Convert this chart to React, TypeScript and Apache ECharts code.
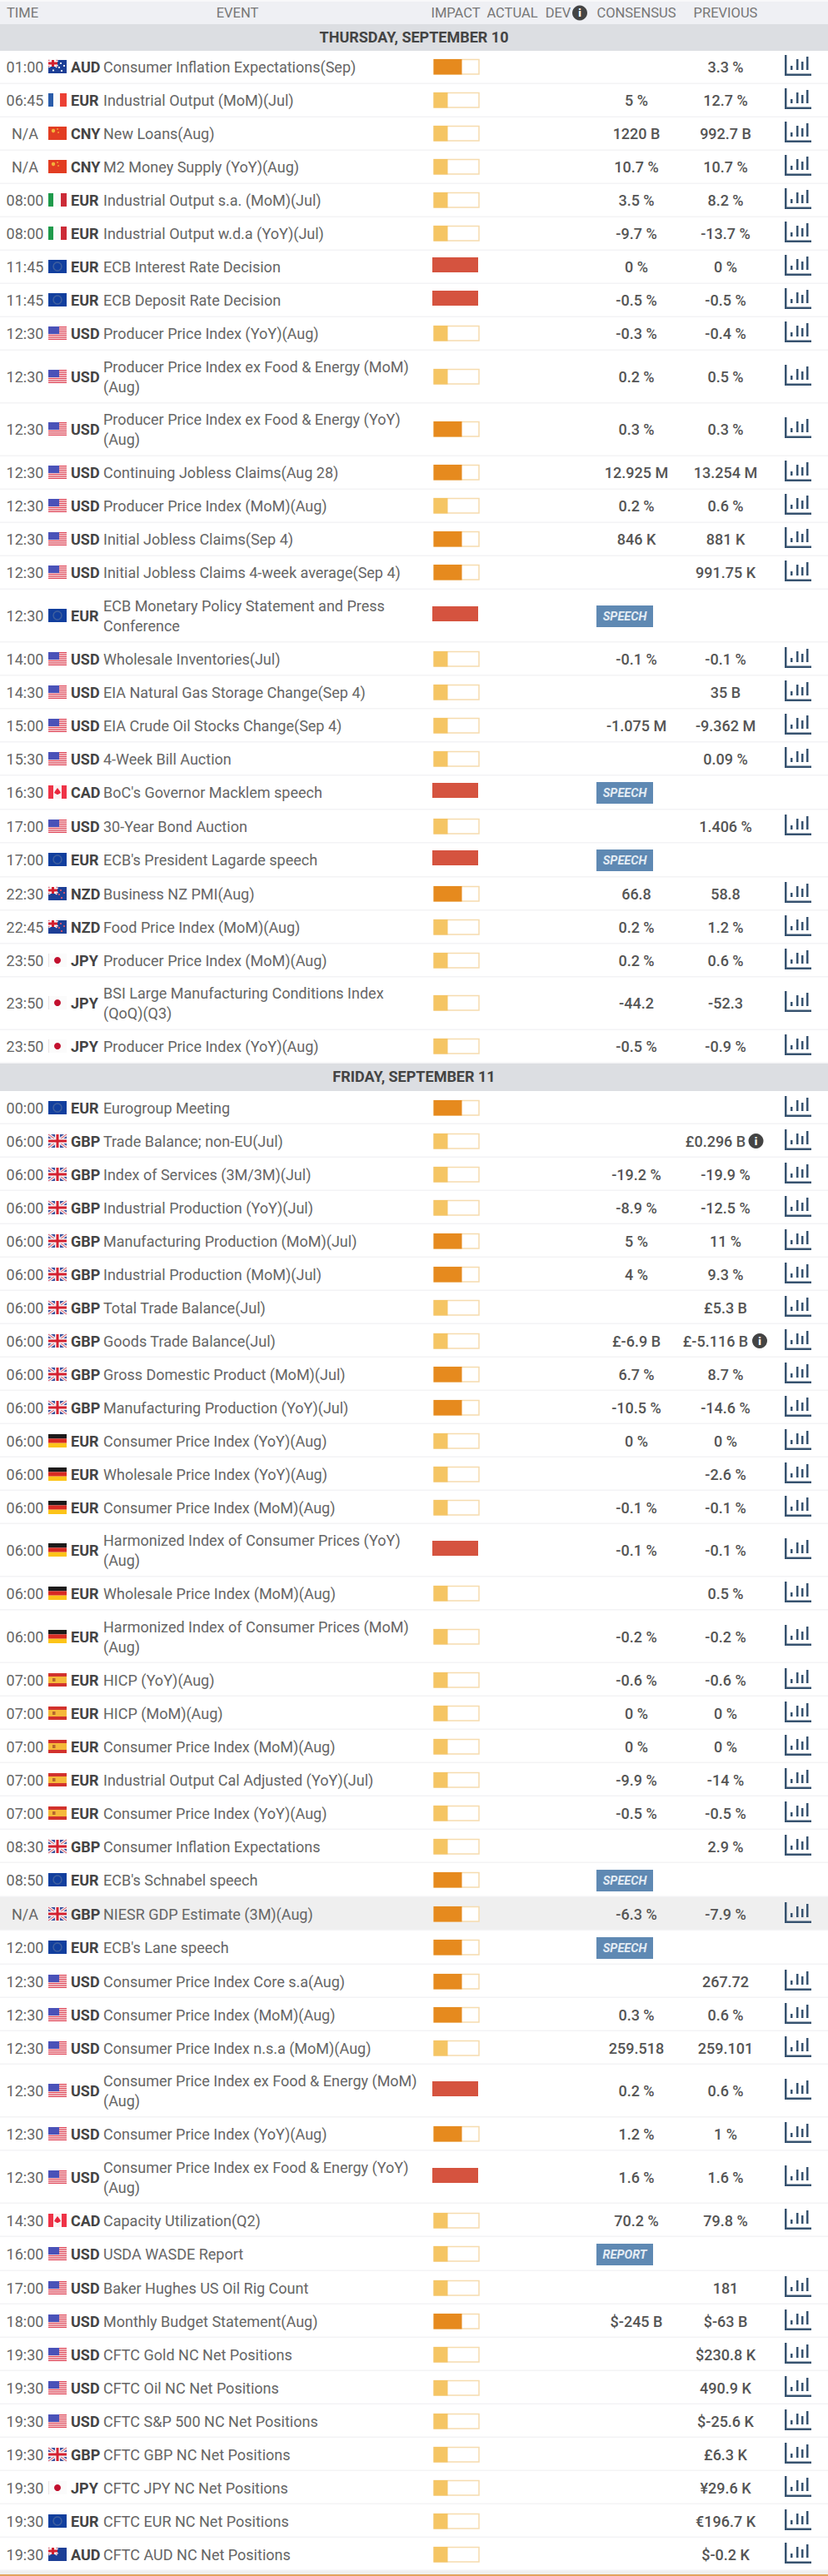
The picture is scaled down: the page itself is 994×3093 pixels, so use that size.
// App.tsx
import React, { useEffect, useRef } from "react";
import * as echarts from "echarts";

const WIDTH = 994;
const HEIGHT = 3093;

const columnLabels = ["TIME", "EVENT", "IMPACT", "ACTUAL", "DEV", "CONSENSUS", "PREVIOUS"];
const dayLabels = ["THURSDAY, SEPTEMBER 10", "FRIDAY, SEPTEMBER 11"];
const dayRowCounts = [28, 42];

const times = [
  "01:00", "06:45", "N/A", "N/A", "08:00", "08:00", "11:45", "11:45", "12:30", "12:30", "12:30", "12:30", "12:30", "12:30",
  "12:30", "12:30", "14:00", "14:30", "15:00", "15:30", "16:30", "17:00", "17:00", "22:30", "22:45", "23:50", "23:50", "23:50",
  "00:00", "06:00", "06:00", "06:00", "06:00", "06:00", "06:00", "06:00", "06:00", "06:00", "06:00", "06:00", "06:00", "06:00",
  "06:00", "06:00", "07:00", "07:00", "07:00", "07:00", "07:00", "08:30", "08:50", "N/A", "12:00", "12:30", "12:30", "12:30",
  "12:30", "12:30", "12:30", "14:30", "16:00", "17:00", "18:00", "19:30", "19:30", "19:30", "19:30", "19:30", "19:30", "19:30",
];

const flags = [
  "AU", "FR", "CN", "CN", "IT", "IT", "EU", "EU", "US", "US", "US", "US", "US", "US",
  "US", "EU", "US", "US", "US", "US", "CA", "US", "EU", "NZ", "NZ", "JP", "JP", "JP",
  "EU", "GB", "GB", "GB", "GB", "GB", "GB", "GB", "GB", "GB", "DE", "DE", "DE", "DE",
  "DE", "DE", "ES", "ES", "ES", "ES", "ES", "GB", "EU", "GB", "EU", "US", "US", "US",
  "US", "US", "US", "CA", "US", "US", "US", "US", "US", "US", "GB", "JP", "EU", "AU",
];

const currencies = [
  "AUD", "EUR", "CNY", "CNY", "EUR", "EUR", "EUR", "EUR", "USD", "USD", "USD", "USD", "USD", "USD",
  "USD", "EUR", "USD", "USD", "USD", "USD", "CAD", "USD", "EUR", "NZD", "NZD", "JPY", "JPY", "JPY",
  "EUR", "GBP", "GBP", "GBP", "GBP", "GBP", "GBP", "GBP", "GBP", "GBP", "EUR", "EUR", "EUR", "EUR",
  "EUR", "EUR", "EUR", "EUR", "EUR", "EUR", "EUR", "GBP", "EUR", "GBP", "EUR", "USD", "USD", "USD",
  "USD", "USD", "USD", "CAD", "USD", "USD", "USD", "USD", "USD", "USD", "GBP", "JPY", "EUR", "AUD",
];

// "\n" marks where the reference wraps the event name
const events = [
  "Consumer Inflation Expectations(Sep)",
  "Industrial Output (MoM)(Jul)",
  "New Loans(Aug)",
  "M2 Money Supply (YoY)(Aug)",
  "Industrial Output s.a. (MoM)(Jul)",
  "Industrial Output w.d.a (YoY)(Jul)",
  "ECB Interest Rate Decision",
  "ECB Deposit Rate Decision",
  "Producer Price Index (YoY)(Aug)",
  "Producer Price Index ex Food & Energy (MoM)\n(Aug)",
  "Producer Price Index ex Food & Energy (YoY)\n(Aug)",
  "Continuing Jobless Claims(Aug 28)",
  "Producer Price Index (MoM)(Aug)",
  "Initial Jobless Claims(Sep 4)",
  "Initial Jobless Claims 4-week average(Sep 4)",
  "ECB Monetary Policy Statement and Press\nConference",
  "Wholesale Inventories(Jul)",
  "EIA Natural Gas Storage Change(Sep 4)",
  "EIA Crude Oil Stocks Change(Sep 4)",
  "4-Week Bill Auction",
  "BoC's Governor Macklem speech",
  "30-Year Bond Auction",
  "ECB's President Lagarde speech",
  "Business NZ PMI(Aug)",
  "Food Price Index (MoM)(Aug)",
  "Producer Price Index (MoM)(Aug)",
  "BSI Large Manufacturing Conditions Index\n(QoQ)(Q3)",
  "Producer Price Index (YoY)(Aug)",
  "Eurogroup Meeting",
  "Trade Balance; non-EU(Jul)",
  "Index of Services (3M/3M)(Jul)",
  "Industrial Production (YoY)(Jul)",
  "Manufacturing Production (MoM)(Jul)",
  "Industrial Production (MoM)(Jul)",
  "Total Trade Balance(Jul)",
  "Goods Trade Balance(Jul)",
  "Gross Domestic Product (MoM)(Jul)",
  "Manufacturing Production (YoY)(Jul)",
  "Consumer Price Index (YoY)(Aug)",
  "Wholesale Price Index (YoY)(Aug)",
  "Consumer Price Index (MoM)(Aug)",
  "Harmonized Index of Consumer Prices (YoY)\n(Aug)",
  "Wholesale Price Index (MoM)(Aug)",
  "Harmonized Index of Consumer Prices (MoM)\n(Aug)",
  "HICP (YoY)(Aug)",
  "HICP (MoM)(Aug)",
  "Consumer Price Index (MoM)(Aug)",
  "Industrial Output Cal Adjusted (YoY)(Jul)",
  "Consumer Price Index (YoY)(Aug)",
  "Consumer Inflation Expectations",
  "ECB's Schnabel speech",
  "NIESR GDP Estimate (3M)(Aug)",
  "ECB's Lane speech",
  "Consumer Price Index Core s.a(Aug)",
  "Consumer Price Index (MoM)(Aug)",
  "Consumer Price Index n.s.a (MoM)(Aug)",
  "Consumer Price Index ex Food & Energy (MoM)\n(Aug)",
  "Consumer Price Index (YoY)(Aug)",
  "Consumer Price Index ex Food & Energy (YoY)\n(Aug)",
  "Capacity Utilization(Q2)",
  "USDA WASDE Report",
  "Baker Hughes US Oil Rig Count",
  "Monthly Budget Statement(Aug)",
  "CFTC Gold NC Net Positions",
  "CFTC Oil NC Net Positions",
  "CFTC S&P 500 NC Net Positions",
  "CFTC GBP NC Net Positions",
  "CFTC JPY NC Net Positions",
  "CFTC EUR NC Net Positions",
  "CFTC AUD NC Net Positions",
];

// 1 low, 2 medium, 3 high
const impacts = [
  2, 1, 1, 1, 1, 1, 3, 3, 1, 1, 2, 2, 1, 2,
  2, 3, 1, 1, 1, 1, 3, 1, 3, 2, 1, 1, 1, 1,
  2, 1, 1, 1, 2, 2, 1, 1, 2, 2, 1, 1, 1, 3,
  1, 1, 1, 1, 1, 1, 1, 1, 2, 2, 2, 2, 2, 1,
  3, 2, 3, 1, 1, 1, 2, 1, 1, 1, 1, 1, 1, 1,
];

const consensus = [
  "", "5 %", "1220 B", "10.7 %", "3.5 %", "-9.7 %", "0 %", "-0.5 %", "-0.3 %", "0.2 %", "0.3 %", "12.925 M", "0.2 %", "846 K",
  "", "", "-0.1 %", "", "-1.075 M", "", "", "", "", "66.8", "0.2 %", "0.2 %", "-44.2", "-0.5 %",
  "", "", "-19.2 %", "-8.9 %", "5 %", "4 %", "", "£-6.9 B", "6.7 %", "-10.5 %", "0 %", "", "-0.1 %", "-0.1 %",
  "", "-0.2 %", "-0.6 %", "0 %", "0 %", "-9.9 %", "-0.5 %", "", "", "-6.3 %", "", "", "0.3 %", "259.518",
  "0.2 %", "1.2 %", "1.6 %", "70.2 %", "", "", "$-245 B", "", "", "", "", "", "", "",
];

const previous = [
  "3.3 %", "12.7 %", "992.7 B", "10.7 %", "8.2 %", "-13.7 %", "0 %", "-0.5 %", "-0.4 %", "0.5 %", "0.3 %", "13.254 M", "0.6 %", "881 K",
  "991.75 K", "", "-0.1 %", "35 B", "-9.362 M", "0.09 %", "", "1.406 %", "", "58.8", "1.2 %", "0.6 %", "-52.3", "-0.9 %",
  "", "£0.296 B", "-19.9 %", "-12.5 %", "11 %", "9.3 %", "£5.3 B", "£-5.116 B", "8.7 %", "-14.6 %", "0 %", "-2.6 %", "-0.1 %", "-0.1 %",
  "0.5 %", "-0.2 %", "-0.6 %", "0 %", "0 %", "-14 %", "-0.5 %", "2.9 %", "", "-7.9 %", "", "267.72", "0.6 %", "259.101",
  "0.6 %", "1 %", "1.6 %", "79.8 %", "", "181", "$-63 B", "$230.8 K", "490.9 K", "$-25.6 K", "£6.3 K", "¥29.6 K", "€196.7 K", "$-0.2 K",
];

const revisedPrevious = ["£0.296 B", "£-5.116 B"];
const badges: Record<string, string> = {
  "ECB Monetary Policy Statement and Press\nConference": "SPEECH",
  "BoC's Governor Macklem speech": "SPEECH",
  "ECB's President Lagarde speech": "SPEECH",
  "ECB's Schnabel speech": "SPEECH",
  "ECB's Lane speech": "SPEECH",
  "USDA WASDE Report": "REPORT",
};
const highlightedEvent = "NIESR GDP Estimate (3M)(Aug)";

const FONT = "Roboto, sans-serif";
const impactColors = ["", "#f5c564", "#e68a1e", "#d5533f"];

// row tops are worked out once, the custom series read them through the y axis
type Band = [number, number, number];
const rowData: number[][] = [];
const dayBands: Band[] = [[29, 61, 0]];
let cursor = 61;
let rowIndex = 0;
dayRowCounts.forEach((count, d) => {
  if (d > 0) {
    dayBands.push([cursor, cursor + 33, d]);
    cursor += 33;
  }
  for (let i = 0; i < count; i++, rowIndex++) {
    const h = events[rowIndex].includes("\n") ? 63.5 : badges[events[rowIndex]] ? 41 : 40;
    rowData.push([rowIndex, cursor, cursor + h]);
    cursor += h;
  }
});

const text = (x: number, y: number, value: string, extra: any = {}) => ({
  type: "text",
  x,
  y,
  silent: true,
  style: { text: value, fontFamily: FONT, fontSize: 18, fill: "#666", align: "left", verticalAlign: "middle", ...extra },
});
const rect = (x: number, y: number, width: number, height: number, fill: string, extra: any = {}) => ({
  type: "rect",
  shape: { x, y, width, height },
  style: { fill, ...extra },
});
const dot = (cx: number, cy: number, r: number, fill: string, extra: any = {}) => ({
  type: "circle",
  shape: { cx, cy, r },
  style: { fill, ...extra },
});
const bar = (x1: number, y1: number, x2: number, y2: number, stroke: string, lineWidth: number) => ({
  type: "line",
  shape: { x1, y1, x2, y2 },
  style: { stroke, lineWidth },
});

function infoIcon(cx: number, cy: number) {
  return [dot(cx, cy, 9, "#444"), text(cx, cy, "i", { fontSize: 13, fontWeight: 900, fill: "#fff", align: "center" })];
}

function chartIcon(x: number, cy: number) {
  const c = "#36526f";
  const base = cy + 4;
  return [
    rect(x, cy - 14, 2.5, 25, c),
    rect(x, cy + 8.5, 32, 2.5, c),
    rect(x + 7, base - 5, 2.5, 5, c),
    rect(x + 14, base - 13, 2.5, 13, c),
    rect(x + 20, base - 10, 2.5, 10, c),
    rect(x + 26, base - 16, 2.5, 16, c),
  ];
}

function unionJack(x: number, y: number, w: number, h: number) {
  return [
    rect(x, y, w, h, "#3b4f9c"),
    bar(x, y, x + w, y + h, "#f2f0f2", 3.5),
    bar(x + w, y, x, y + h, "#f2f0f2", 3.5),
    bar(x, y, x + w, y + h, "#d9485a", 1),
    bar(x + w, y, x, y + h, "#d9485a", 1),
    rect(x + w / 2 - 3, y, 6, h, "#f6f4f5"),
    rect(x, y + h / 2 - 3, w, 6, "#f6f4f5"),
    rect(x + w / 2 - 1.5, y, 3, h, "#d4202f"),
    rect(x, y + h / 2 - 1.5, w, 3, "#d4202f"),
  ];
}

function flagShapes(code: string, cy: number) {
  const x = 58;
  const w = 22;
  const h = 16;
  const y = cy - 8;
  switch (code) {
    case "AU":
    case "NZ": {
      const stars = code === "AU"
        ? [[15, 4], [19, 7], [13, 9], [16, 13], [6, 12.5]]
        : [[15, 4], [19, 7], [13, 9], [16, 13]];
      return [
        rect(x, y, w, h, "#1d3f96"),
        ...unionJack(x, y, 11, 8),
        ...stars.map(([sx, sy]) => dot(x + sx, y + sy, 1.1, code === "AU" ? "#fff" : "#e0566a")),
      ];
    }
    case "FR":
      return [rect(x, y, 6, h, "#2a5caa"), rect(x + 6, y, 8, h, "#fafafa"), rect(x + 14, y, 8, h, "#ec4034")];
    case "CN":
      return [rect(x, y, w, h, "#e23d22"), dot(x + 6, y + 5, 2.2, "#f3b23a"), dot(x + 11, y + 3, 0.8, "#f3b23a"), dot(x + 12, y + 7, 0.8, "#f3b23a")];
    case "IT":
      return [rect(x, y, 6, h, "#1e9a4b"), rect(x + 6, y, 9, h, "#fafafa"), rect(x + 15, y, 7, h, "#cc2b37")];
    case "EU":
      return [rect(x, y, w, h, "#123f9e"), dot(x + 11, y + 8, 5, "none", { stroke: "#3f5f9e", lineWidth: 1.5 })];
    case "US": {
      const stripes = [0, 1, 2, 3, 4, 5, 6].map((i) => rect(x, y + (i * h) / 6.5, w, h / 13, "#e0475a"));
      return [rect(x, y, w, h, "#f7e4e4"), ...stripes, rect(x, y, 13, 9, "#4a52b8")];
    }
    case "CA":
      return [
        rect(x, y, 6, h, "#ef3347"),
        rect(x + 6, y, 10, h, "#fbf3f3"),
        rect(x + 16, y, 6, h, "#ef3347"),
        { type: "polygon", shape: { points: [[x + 11, y + 3], [x + 14, y + 7], [x + 15, y + 9], [x + 11.5, y + 11], [x + 10.5, y + 11], [x + 7, y + 9], [x + 8, y + 7]] }, style: { fill: "#e8283e" } },
      ];
    case "JP":
      return [rect(x, y, w, h, "#fbfbfb"), rect(x, y, 1, h, "#e8e4e4"), dot(x + 11, y + 8, 4, "#c2102e")];
    case "GB":
      return unionJack(x, y, w, h);
    case "DE":
      return [rect(x, y, w, 5.4, "#1d1b1b"), rect(x, y + 5.4, w, 5.3, "#d92b23"), rect(x, y + 10.7, w, 5.3, "#fcc419")];
    case "ES":
      return [rect(x, y, w, 4, "#d2322d"), rect(x, y + 4, w, 8, "#f5b93a"), rect(x, y + 12, w, 4, "#d2322d"), rect(x + 5, y + 6, 3.5, 4, "#b5662e")];
    default:
      return [];
  }
}

function renderBand(params: any, api: any) {
  const [, top] = api.coord([0, api.value(0)]);
  const [, bottom] = api.coord([0, api.value(1)]);
  const d = api.value(2);
  return {
    type: "group",
    children: [
      rect(0, top, WIDTH, bottom - top, "#dcdee2"),
      text(WIDTH / 2, (top + bottom) / 2 - 1, dayLabels[d], { fontWeight: 700, fill: "#444", align: "center" }),
    ],
  };
}

function renderRow(params: any, api: any) {
  const i = api.value(0);
  const [, top] = api.coord([0, api.value(1)]);
  const [, bottom] = api.coord([0, api.value(2)]);
  // contents sit slightly above the middle of the row, a bit more on the first day
  const cy = Math.round((top + bottom) / 2 - (i < dayRowCounts[0] ? 1 : 0.5));
  const name = events[i];
  const lines = name.split("\n");
  const badge = badges[name];
  const level = impacts[i];
  const children: any[] = [];

  if (name === highlightedEvent) children.push(rect(0, top, WIDTH, bottom - top, "#efefef"));
  children.push(rect(0, bottom - 1.5, WIDTH, 1.5, "#f3f3f5"));

  children.push(text(30, cy, times[i], { align: "center" }));
  children.push(...flagShapes(flags[i], cy));
  children.push(text(85, cy, currencies[i], { fontWeight: 700, fill: "#444" }));
  lines.forEach((line, n) => {
    children.push(text(124, cy + (n - (lines.length - 1) / 2) * 24, line));
  });

  // impact meter
  if (level === 3) {
    children.push(rect(519, cy - 11, 55, 18, impactColors[3]));
  } else {
    children.push(rect(521, cy - 8.5, 54, 17.5, "#fff", { stroke: "#f6dcae", lineWidth: 1.5 }));
    children.push(rect(520.5, cy - 9, level === 1 ? 17 : 34, 18.5, impactColors[level]));
  }

  if (badge) {
    children.push(rect(716, cy - 12, 68, 26, "#5f89b3"));
    children.push(text(750, cy + 1, badge, { fontSize: 14.5, fontWeight: 700, fontStyle: "italic", fill: "#e4ecf4", align: "center" }));
  } else {
    const cons = consensus[i];
    const prev = previous[i];
    if (cons) children.push(text(764, cy, cons, { fontWeight: 500, fill: "#555", align: "center" }));
    if (prev) {
      const revised = revisedPrevious.includes(prev);
      children.push(text(revised ? 859 : 871, cy, prev, { fontWeight: 500, fill: "#555", align: "center" }));
      if (revised) children.push(...infoIcon(859 + prev.length * 4.5 + 12.5, cy));
    }
    children.push(...chartIcon(942, cy));
  }
  return { type: "group", children };
}

function renderHeader(params: any, api: any) {
  const [, top] = api.coord([0, api.value(0)]);
  const [, bottom] = api.coord([0, api.value(1)]);
  const cy = (top + bottom) / 2 + 1;
  const centers = [27, 285, 547, 615, 670, 764, 871];
  return {
    type: "group",
    children: [
      rect(0, top, WIDTH, bottom - top, "#eff0f4"),
      rect(0, top, WIDTH, 2, "#f8f8fa"),
      ...columnLabels.map((label, n) => text(centers[n], cy, label, { fontSize: 16.5, fill: "#777", align: "center" })),
      ...infoIcon(696, cy),
    ],
  };
}

function renderFooter(params: any, api: any) {
  const [, top] = api.coord([0, api.value(0)]);
  const [, bottom] = api.coord([0, api.value(1)]);
  return {
    type: "group",
    children: [rect(0, top, WIDTH, bottom - top, "#f0f0f0"), rect(0, bottom - 2, WIDTH, 2, "#e3a35c")],
  };
}

export default function App() {
  const chartRef = useRef<HTMLDivElement>(null);

  useEffect(() => {
    if (!chartRef.current) return;
    const chart = echarts.init(chartRef.current, undefined, { renderer: "svg" });

    const series = (renderItem: any, data: number[][], encodeY: number[]) => ({
      type: "custom",
      renderItem,
      data,
      silent: true,
      clip: false,
      encode: { x: -1, y: encodeY },
    });

    chart.setOption({
      animation: false,
      backgroundColor: "#fff",
      grid: { left: 0, right: 0, top: 0, bottom: 0 },
      xAxis: { type: "value", min: 0, max: WIDTH, show: false },
      yAxis: { type: "value", min: 0, max: HEIGHT, inverse: true, show: false },
      series: [
        series(renderHeader, [[0, 29]], [0, 1]),
        series(renderBand, dayBands, [0, 1]),
        series(renderRow, rowData, [1, 2]),
        series(renderFooter, [[cursor, HEIGHT]], [0, 1]),
      ],
    });

    return () => {
      chart.dispose();
    };
  }, []);

  return <div ref={chartRef} style={{ position: "absolute", left: 0, top: 0, width: WIDTH, height: HEIGHT }} />;
}
